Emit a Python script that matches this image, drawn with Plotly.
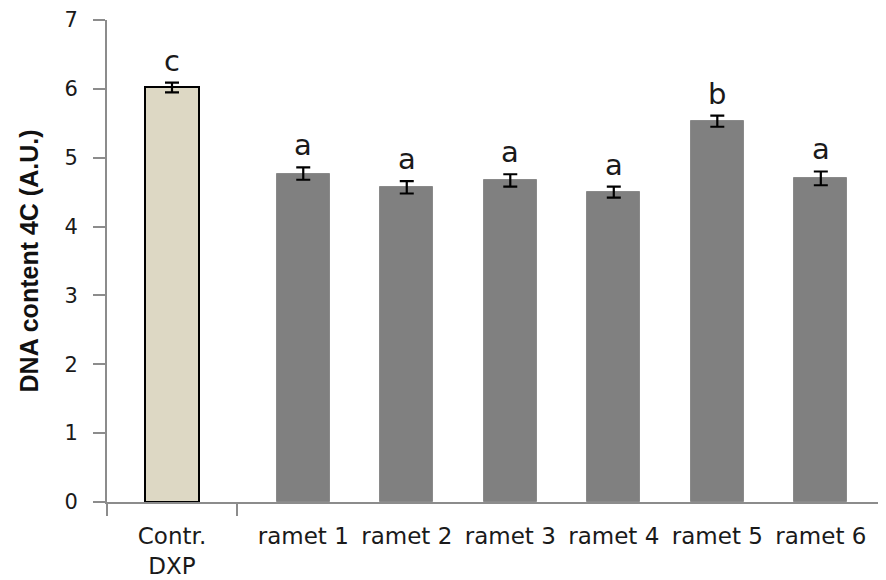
import plotly.graph_objects as go

# Data
control_label = ["Contr.<br>DXP"]
control_value = [6.02]
control_err = [0.07]
control_letter = ["c"]

ramet_labels = ["ramet 1", "ramet 2", "ramet 3", "ramet 4", "ramet 5", "ramet 6"]
ramet_values = [4.77, 4.57, 4.67, 4.50, 5.53, 4.70]
ramet_errs = [0.09, 0.09, 0.09, 0.08, 0.08, 0.10]
ramet_letters = ["a", "a", "a", "a", "b", "a"]

y_ticks = [0, 1, 2, 3, 4, 5, 6, 7]

FONT = "DejaVu Sans"
AXIS_COLOR = "#8c8c8c"
TXT = "#1a1a1a"

fig = go.Figure()

fig.add_trace(go.Bar(
    x=control_label, y=control_value,
    error_y=dict(type="data", array=control_err, color="black", thickness=2.2, width=7),
    marker=dict(color="#ddd8c4", line=dict(color="black", width=2)),
    width=0.41, xaxis="x", yaxis="y", showlegend=False,
))

fig.add_trace(go.Bar(
    x=ramet_labels, y=ramet_values,
    error_y=dict(type="data", array=ramet_errs, color="black", thickness=2.2, width=7),
    marker=dict(color="#808080", line=dict(color="#8a8a8a", width=1)),
    width=0.51, xaxis="x2", yaxis="y", showlegend=False,
))

annotations = []
for lab, v, e, t in zip(control_label, control_value, control_err, control_letter):
    annotations.append(dict(x=lab, y=v + e, xref="x", yref="y", text=t, showarrow=False,
                            yanchor="bottom", yshift=3, font=dict(family=FONT, size=29, color=TXT)))
for lab, v, e, t in zip(ramet_labels, ramet_values, ramet_errs, ramet_letters):
    annotations.append(dict(x=lab, y=v + e, xref="x2", yref="y", text=t, showarrow=False,
                            yanchor="bottom", yshift=3, font=dict(family=FONT, size=29, color=TXT)))

d1 = 130 / 778

fig.update_layout(
    width=878, height=572,
    margin=dict(l=99, r=1, t=12, b=78, autoexpand=False),
    paper_bgcolor="white", plot_bgcolor="white",
    font=dict(family=FONT, size=21, color=TXT),
    bargap=0,
    annotations=annotations,
    xaxis=dict(
        domain=[0, d1], type="category", categoryorder="array", categoryarray=control_label,
        range=[-0.5, 0.5], showline=True, linecolor=AXIS_COLOR, linewidth=2,
        ticks="outside", tickson="boundaries", ticklen=12, tickcolor=AXIS_COLOR, tickwidth=2,
        ticklabelstandoff=12,
        showgrid=False, zeroline=False, anchor="y", automargin=False,
        tickfont=dict(family=FONT, size=23, color=TXT),
    ),
    xaxis2=dict(
        domain=[d1, 1], type="category", categoryorder="array", categoryarray=ramet_labels,
        range=[-0.64, 5.62], showline=True, linecolor=AXIS_COLOR, linewidth=2,
        ticks="", ticklabelstandoff=12,
        showgrid=False, zeroline=False, anchor="y", automargin=False,
        tickfont=dict(family=FONT, size=23, color=TXT),
    ),
    yaxis=dict(
        range=[0, 7], tickvals=y_ticks, showline=True, linecolor=AXIS_COLOR, linewidth=2,
        ticks="outside", ticklen=12, tickcolor=AXIS_COLOR, tickwidth=2,
        ticklabelstandoff=11,
        showgrid=False, zeroline=False, anchor="x", automargin=False,
        tickfont=dict(family=FONT, size=21, color=TXT),
        title=dict(text="<b>DNA content 4C (A.U.)</b>", standoff=19,
                   font=dict(family="Liberation Sans", size=25, color="#111")),
    ),
)

fig.write_html("out.html")
